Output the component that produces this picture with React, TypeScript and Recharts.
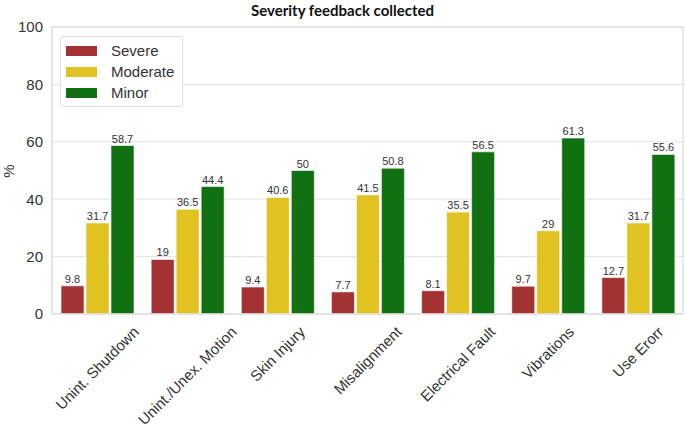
import React from 'react';
import { BarChart, Bar, XAxis, YAxis, CartesianGrid, LabelList, ReferenceArea } from 'recharts';

const categories = ['Unint. Shutdown', 'Unint./Unex. Motion', 'Skin Injury', 'Misalignment', 'Electrical Fault', 'Vibrations', 'Use Erorr'];
const severe = [9.8, 19, 9.4, 7.7, 8.1, 9.7, 12.7];
const moderate = [31.7, 36.5, 40.6, 41.5, 35.5, 29, 31.7];
const minor = [58.7, 44.4, 50, 50.8, 56.5, 61.3, 55.6];
const yTicks = [0, 20, 40, 60, 80, 100];

const colors = { severe: '#a33333', moderate: '#e0c320', minor: '#117011' };
const textColor = '#333333';
const gridColor = '#e2e2e2';
const axisFont = '"Liberation Sans", Arial, sans-serif';

const legendItems = [
  { label: 'Severe', color: colors.severe },
  { label: 'Moderate', color: colors.moderate },
  { label: 'Minor', color: colors.minor },
];

const data = categories.map((name, i) => ({
  name,
  severe: severe[i],
  moderate: moderate[i],
  minor: minor[i],
}));

let canvas: HTMLCanvasElement | null = null;
function textWidth(s: string, font: string) {
  if (!canvas) canvas = document.createElement('canvas');
  const ctx = canvas.getContext('2d');
  if (!ctx) return s.length * 7.5;
  ctx.font = font;
  return ctx.measureText(s).width;
}

// rotated 45°, centred on the tick like matplotlib's default rotation
const RotatedTick = (props: any) => {
  const { x, y, payload } = props;
  const w = textWidth(payload.value, `15px ${axisFont}`);
  const cy = y + 10 + (w + 14) * 0.354;
  return (
    <text
      x={x}
      y={cy}
      textAnchor="middle"
      dominantBaseline="central"
      transform={`rotate(-45 ${x} ${cy})`}
      fontSize={15}
      fontFamily={axisFont}
      fill={textColor}
    >
      {payload.value}
    </text>
  );
};

export default function App() {
  return (
    <div style={{ position: 'absolute', left: 0, top: 0, width: 685, height: 428, background: '#fff' }}>
      <div
        style={{
          position: 'absolute',
          top: 0,
          left: 0,
          width: 685,
          textAlign: 'center',
          fontFamily: 'Lato, sans-serif',
          fontWeight: 'bold',
          fontSize: 15,
          lineHeight: '20px',
          color: '#111',
        }}
      >
        Severity feedback collected
      </div>
      <BarChart
        width={685}
        height={428}
        data={data}
        margin={{ top: 27, right: 2, left: 0, bottom: 0 }}
        barCategoryGap="10%"
        barGap={2}
      >
        <CartesianGrid vertical={false} stroke={gridColor} />
        <ReferenceArea y1={0} y2={100} fill="none" stroke={gridColor} strokeWidth={1.5} />
        <XAxis
          dataKey="name"
          height={114}
          interval={0}
          tickLine={false}
          tickSize={0}
          tickMargin={0}
          axisLine={{ stroke: gridColor, strokeWidth: 1.5 }}
          tick={<RotatedTick />}
        />
        <YAxis
          domain={[0, 100]}
          ticks={yTicks}
          width={52}
          tickLine={false}
          tickSize={7}
          tickMargin={2}
          axisLine={{ stroke: gridColor, strokeWidth: 1.5 }}
          tick={{ fontSize: 15, fontFamily: axisFont, fill: textColor }}
          label={{
            content: () => (
              <text
                x={8}
                y={171}
                transform="rotate(-90 8 171)"
                textAnchor="middle"
                dominantBaseline="central"
                fontSize={15}
                fontFamily={axisFont}
                fill={textColor}
              >
                %
              </text>
            ),
          }}
        />
        <Bar dataKey="severe" name="Severe" fill={colors.severe} stroke="#ffffff" strokeWidth={0.6} isAnimationActive={false}>
          <LabelList dataKey="severe" position="top" offset={3} fontSize={11} fontFamily={axisFont} fill={textColor} />
        </Bar>
        <Bar dataKey="moderate" name="Moderate" fill={colors.moderate} stroke="#ffffff" strokeWidth={0.6} isAnimationActive={false}>
          <LabelList dataKey="moderate" position="top" offset={3} fontSize={11} fontFamily={axisFont} fill={textColor} />
        </Bar>
        <Bar dataKey="minor" name="Minor" fill={colors.minor} stroke="#ffffff" strokeWidth={0.6} isAnimationActive={false}>
          <LabelList dataKey="minor" position="top" offset={3} fontSize={11} fontFamily={axisFont} fill={textColor} />
        </Bar>
      </BarChart>
      <div
        style={{
          position: 'absolute',
          left: 60,
          top: 36,
          background: '#fff',
          border: '1px solid #dddddd',
          borderRadius: 3,
          width: 123,
          height: 71,
          boxSizing: 'border-box',
          padding: '3px 0 0 5px',
          fontFamily: axisFont,
          fontSize: 15,
          color: textColor,
        }}
      >
        {legendItems.map((it) => (
          <div key={it.label} style={{ display: 'flex', alignItems: 'center', height: 21 }}>
            <span style={{ width: 31, height: 10, background: it.color, display: 'inline-block', marginRight: 14 }} />
            <span>{it.label}</span>
          </div>
        ))}
      </div>
    </div>
  );
}
